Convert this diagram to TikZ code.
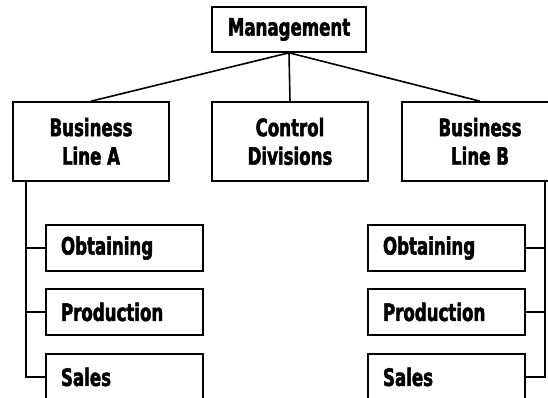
\documentclass[tikz,border=0pt]{standalone}
\usepackage{fontspec}
\newfontfamily\orgfont{DejaVu Sans Condensed}[FakeStretch=0.77,BoldFeatures={FakeBold=2}]
\usetikzlibrary{calc}

\begin{document}
\begin{tikzpicture}[x=1pt,y=1pt,
        unitbox/.style={draw,line width=1.6pt,inner sep=0pt,align=center,
            font=\orgfont\bfseries\fontsize{24}{28.6}\selectfont},
        headbox/.style={unitbox,minimum width=154pt,minimum height=45pt},
        linebox/.style={unitbox,minimum width=156pt,minimum height=79pt},
        subbox/.style={unitbox,text width=127pt,inner xsep=15pt,align=left,minimum height=46pt},
        link/.style={line width=1.6pt}]
        \useasboundingbox (0,0) rectangle (548,398);
        \node[headbox] (mgmt) at (289,368.5) {Management};
        \node[linebox] (lineA) at (91,256.5) {Business\\Line A};
        \node[linebox] (ctrl) at (290,256.5) {Control\\Divisions};
        \node[linebox] (lineB) at (480,256.5) {Business\\Line B};
        \node[subbox] (obtA) at (124.5,150) {Obtaining};
        \node[subbox] (prodA) at (124.5,86) {Production};
        \node[subbox] (salesA) at (124.5,21) {Sales};
        \node[subbox] (obtB) at (446.5,150) {Obtaining};
        \node[subbox] (prodB) at (446.5,86) {Production};
        \node[subbox] (salesB) at (446.5,21) {Sales};
        \draw[link] (mgmt.south) -- (lineA.north);
        \draw[link] (mgmt.south) -- (ctrl.north);
        \draw[link] (mgmt.south) -- (lineB.north);
        \foreach \n in {obtA,prodA,salesA}
            \draw[link] ([xshift=14pt]lineA.south west) |- (\n.west);
        \foreach \n in {obtB,prodB,salesB}
            \draw[link] ([xshift=-14pt]lineB.south east) |- (\n.east);
    \end{tikzpicture}
\end{document}
